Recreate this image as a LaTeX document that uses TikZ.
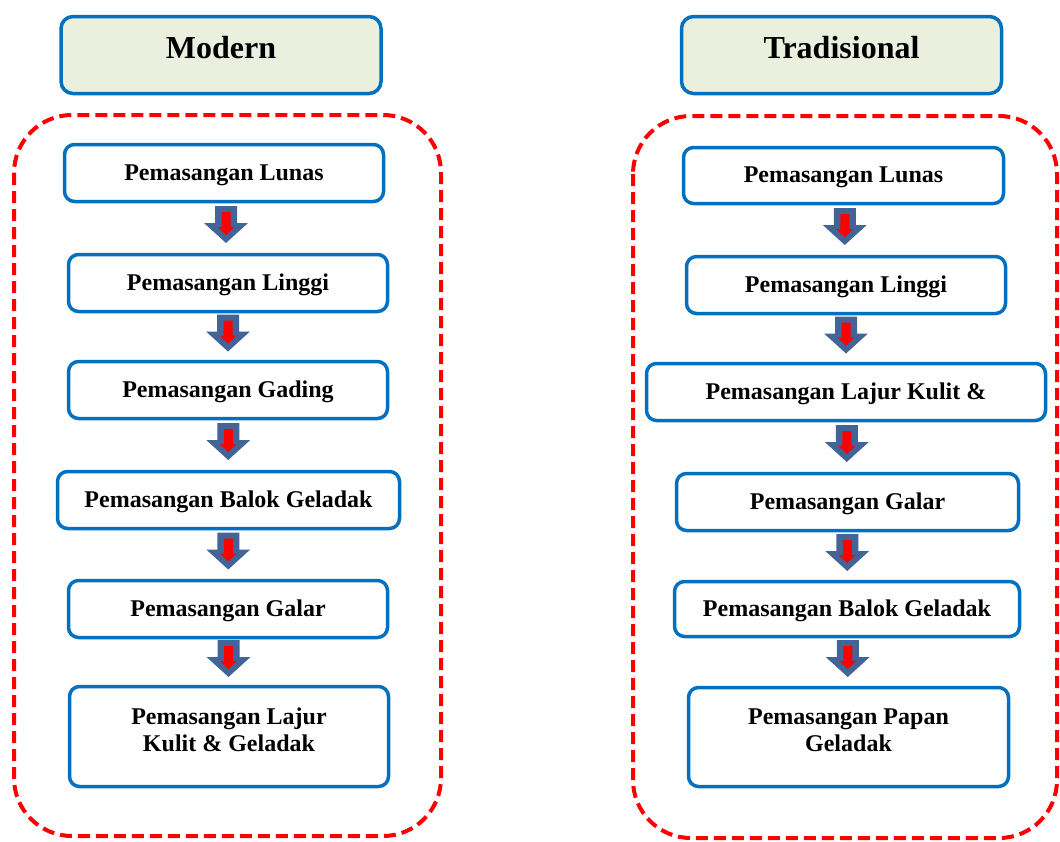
\documentclass[tikz,border=0pt]{standalone}
\usepackage{fontspec}
\setmainfont{Liberation Serif}
\usetikzlibrary{calc}
\definecolor{boxblue}{HTML}{0070C0}
\definecolor{headfill}{HTML}{EBEFDE}
\definecolor{arrowblue}{HTML}{426496}
\definecolor{dashred}{HTML}{FF0000}
\tikzset{
  stepbox/.style={draw=boxblue, line width=3.5pt, rounded corners=10pt, fill=white,
    font=\fontsize{24}{27}\selectfont\bfseries, align=center, inner sep=0pt},
  onerow/.style={text height=19pt, text depth=5pt},
  headbox/.style={draw=boxblue, line width=3.5pt, rounded corners=12pt, fill=headfill,
    font=\fontsize{32}{36}\selectfont\bfseries, inner sep=0pt, text height=15pt, text depth=8pt},
  group/.style={draw=dashred, line width=4pt, dash pattern=on 12pt off 6pt, rounded corners=58pt},
  downarrow/.pic={
    \fill[arrowblue] (-11,0) -- (11,0) -- (11,17) -- (22,17) -- (0,37) -- (-22,17) -- (-11,17) -- cycle;
    \fill[red] (-4.5,6) -- (4.5,6) -- (4.5,21) -- (8.5,21) -- (0,29) -- (-8.5,21) -- (-4.5,21) -- cycle;
  }
}
\begin{document}
\begin{tikzpicture}[x=1pt,y=-1pt]
\useasboundingbox (0,0) rectangle (1060,841);
% containers
\draw[group] (14,115) rectangle (441,836);
\draw[group] (633,116) rectangle (1057,838);
% headers
\node[headbox, minimum width=320, minimum height=77] (hm) at (221,55) {Modern};
\node[headbox, minimum width=320, minimum height=77] (ht) at (841.5,55) {Tradisional};
% left column
\node[stepbox, onerow, minimum width=319, minimum height=57] (l1) at (224,173) {Pemasangan Lunas};
\node[stepbox, onerow, minimum width=319, minimum height=57] (l2) at (228,283) {Pemasangan Linggi};
\node[stepbox, onerow, minimum width=319, minimum height=57] (l3) at (228,390) {Pemasangan Gading};
\node[stepbox, onerow, minimum width=342, minimum height=57] (l4) at (228.5,500) {Pemasangan Balok Geladak};
\node[stepbox, onerow, minimum width=319, minimum height=57] (l5) at (228,609) {Pemasangan Galar};
\node[stepbox, minimum width=319, minimum height=100] (l6) at (229,736.5)
  {\raisebox{4pt}[\height][\depth]{\begin{tabular}{@{}c@{}}Pemasangan Lajur\\Kulit \& Geladak\end{tabular}}};
% right column
\node[stepbox, onerow, minimum width=320, minimum height=56] (r1) at (843.5,175.5) {Pemasangan Lunas};
\node[stepbox, onerow, minimum width=319, minimum height=57] (r2) at (846,285) {Pemasangan Linggi};
\node[stepbox, onerow, minimum width=399, minimum height=57] (r3) at (846,392) {Pemasangan Lajur Kulit \&};
\node[stepbox, onerow, minimum width=342, minimum height=57] (r4) at (847.5,502) {Pemasangan Galar};
\node[stepbox, onerow, minimum width=345, minimum height=55] (r5) at (847,609) {Pemasangan Balok Geladak};
\node[stepbox, minimum width=320, minimum height=99] (r6) at (848.5,737)
  {\raisebox{4pt}[\height][\depth]{\begin{tabular}{@{}c@{}}Pemasangan Papan\\Geladak\end{tabular}}};
% arrows
\foreach \a/\b in {l1/l2,l2/l3,l3/l4,l4/l5,l5/l6,r1/r2,r2/r3,r3/r4,r4/r5,r5/r6}{
  \path ($(\a.south)!0.5!(\b.north)$) ++(0,-22) pic{downarrow};
}
\end{tikzpicture}
\end{document}
